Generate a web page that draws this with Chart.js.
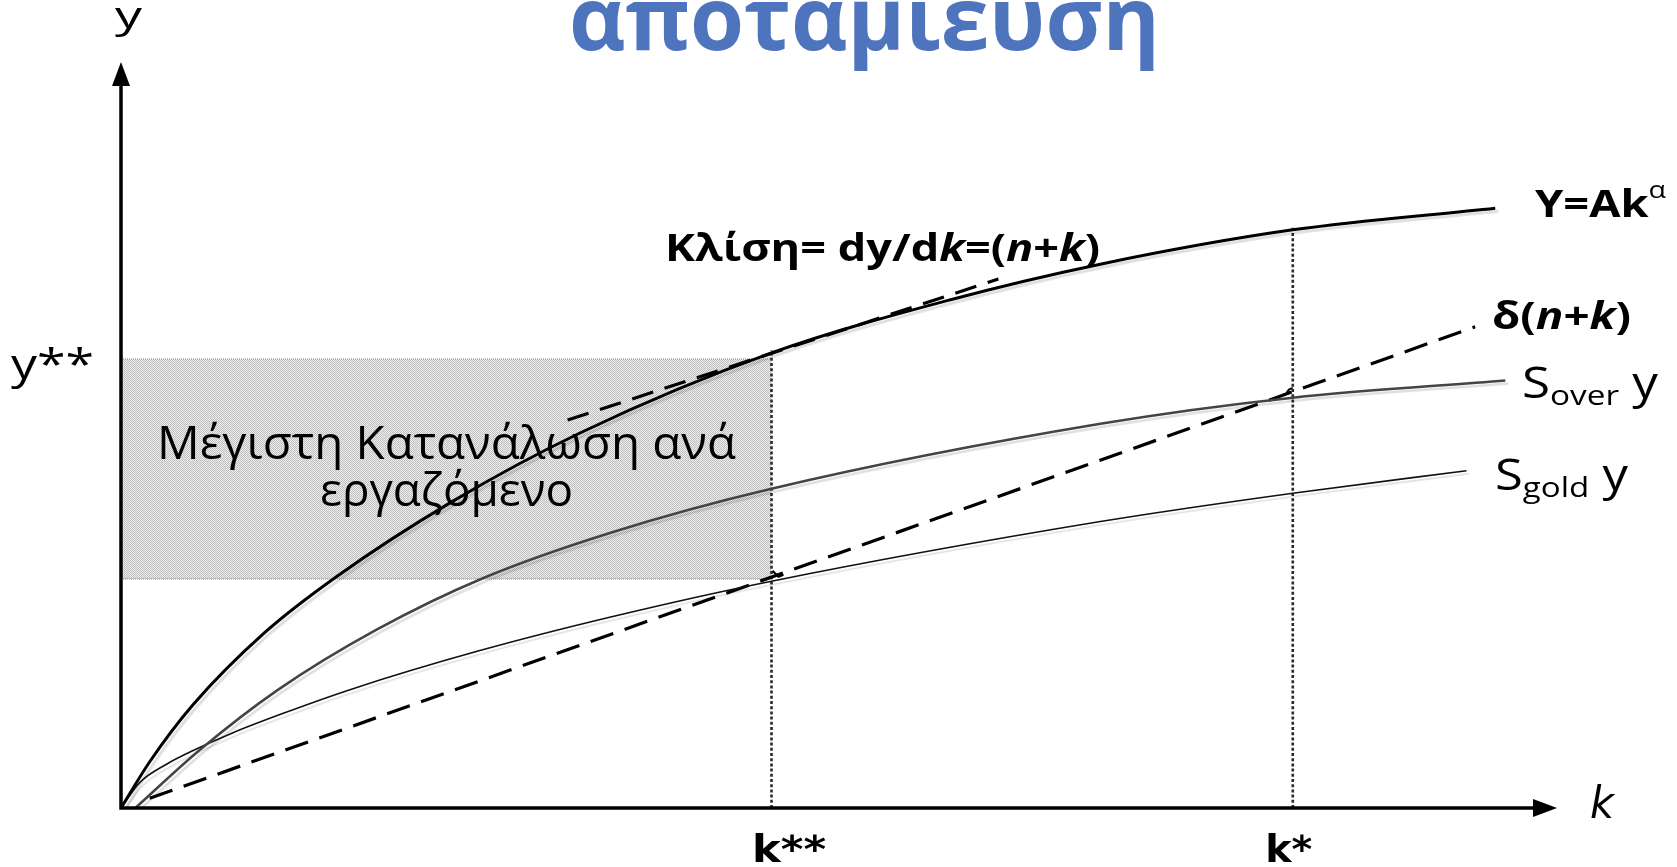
<!DOCTYPE html>
<html>
<head>
<meta charset="utf-8">
<title>Χρυσός κανόνας αποταμίευσης</title>
<script src="https://cdn.jsdelivr.net/npm/chart.js@4.4.1/dist/chart.umd.min.js"></script>
<style>
  html, body { margin: 0; padding: 0; background: #fff; }
  canvas { display: block; }
</style>
</head>
<body>
<canvas id="chart" width="1677" height="867"></canvas>
<script>
// k and y both run 0..100 along the axes
const prodK = [0, 2, 5, 10, 15, 23, 32, 45.3, 57.7, 68.2, 81.6, 95.7];
const prodY = [0, 6.2, 13.8, 23.5, 31.0, 41.0, 50.3, 61.0, 68.1, 72.9, 77.5, 80.4];

const overK = [1.0, 5.5, 10.9, 17.8, 25.2, 34.1, 45.3, 68.2, 81.6, 96.4];
const overY = [0, 7.8, 15.8, 23.9, 30.8, 36.9, 42.8, 51.5, 55.0, 57.3];

const goldK = [0, 1.3, 3.2, 4.8, 7.8, 11.3, 16.0, 24.8, 34.1, 45.3, 68.2, 81.6, 93.7];
const goldY = [0, 3.4, 5.9, 7.5, 10.1, 12.7, 15.9, 21.0, 25.6, 30.4, 38.4, 42.2, 45.2];

// δ(n+k) line and the tangent at k**
const deprK = [2.0, 94.3];
const deprY = [1.3, 64.5];
const tangentK = [31.1, 61.1];
const tangentY = [52.0, 70.9];

const kGold = 45.3;
const kOver = 81.6;
const guideTop = [61.4, 77.8];
const consTop = 60.2;
const consBottom = 30.7;

// little angle marks where δ(n+k) meets the savings curves
const markK = [45.3, 81.6];
const markY = [31.0, 55.6];

const tickK = [kGold, kOver];
const tickKLabels = ['k**', 'k*'];
const tickY = [consTop];
const tickYLabels = ['y**'];

const SANS = '"Open Sans", "Noto Sans", sans-serif';
const NARROW = '"Liberation Sans Narrow", "DejaVu Sans Condensed", "Liberation Sans", sans-serif';

const pts = (xs, ys) => xs.map((x, i) => ({x: x, y: ys[i]}));

function dither() {
  const c = document.createElement('canvas');
  c.width = 2; c.height = 2;
  const g = c.getContext('2d');
  g.fillStyle = '#ececec';
  g.fillRect(0, 0, 2, 2);
  g.fillStyle = '#c0c0c0';
  g.fillRect(0, 0, 1, 1);
  g.fillRect(1, 1, 1, 1);
  return g.createPattern(c, 'repeat');
}

// draws a row of text pieces squeezed to a given width
function drawRun(ctx, parts, left, baseline, width) {
  let total = 0;
  parts.forEach(p => { ctx.font = p.font; total += ctx.measureText(p.t).width; });
  const sx = width / total;
  ctx.save();
  ctx.translate(left, baseline);
  ctx.scale(sx, 1);
  ctx.textAlign = 'left';
  ctx.textBaseline = 'alphabetic';
  let x = 0;
  parts.forEach(p => {
    ctx.font = p.font;
    ctx.fillStyle = p.color || '#000';
    ctx.fillText(p.t, x, p.dy || 0);
    x += ctx.measureText(p.t).width;
  });
  ctx.restore();
}

const B = 'bold 38px ' + SANS;
const BI = 'italic bold 38px ' + SANS;

const annotations = [
  {parts: [{t: 'αποταμίευση', font: 'bold 88px ' + SANS, color: '#4f74be'}], left: 569, y: 50, w: 591},
  {parts: [{t: 'y', font: '37px ' + SANS}], left: 115, y: 28, w: 27},
  {parts: [{t: 'Μέγιστη Κατανάλωση ανά', font: '45px ' + SANS}], left: 157, y: 459, w: 579},
  {parts: [{t: 'εργαζόμενο', font: '45px ' + SANS}], left: 320, y: 506, w: 253},
  {parts: [{t: 'Κλίση= dy/d', font: B}, {t: 'k', font: BI}, {t: '=(', font: B}, {t: 'n', font: BI},
           {t: '+', font: B}, {t: 'k', font: BI}, {t: ')', font: B}], left: 665, y: 261, w: 435},
  {parts: [{t: 'Y=Ak', font: B}, {t: 'α', font: '24px ' + SANS, dy: -19}], left: 1535, y: 217, w: 131},
  {parts: [{t: 'δ(', font: B}, {t: 'n', font: BI}, {t: '+', font: B}, {t: 'k', font: BI}, {t: ')', font: B}],
   left: 1492, y: 329, w: 139},
  {parts: [{t: 'S', font: '43px ' + SANS}, {t: 'over', font: '28px ' + SANS, dy: 7}, {t: ' y', font: '43px ' + SANS}],
   left: 1522, y: 398, w: 136},
  {parts: [{t: 'S', font: '43px ' + SANS}, {t: 'gold', font: '28px ' + SANS, dy: 7}, {t: ' y', font: '43px ' + SANS}],
   left: 1495, y: 490, w: 133},
  {parts: [{t: 'k', font: 'italic 44px ' + NARROW}], left: 1590, y: 818, w: 24}
];

const tickStyle = {
  k: {font: 'bold 37px ' + NARROW, dx: [17.5, -4], w: [74, 47], baseline: 862},
  y: {font: '42px ' + SANS, left: 11, w: 83, dy: 20}
};

const labelPlugin = {
  id: 'labels',
  beforeDatasetsDraw(chart) {
    const ctx = chart.ctx;
    const {x, y} = chart.scales;
    annotations.forEach(a => drawRun(ctx, a.parts, a.left, a.y, a.w));
    tickK.forEach((v, i) => {
      const cx = x.getPixelForValue(v) + tickStyle.k.dx[i];
      drawRun(ctx, [{t: tickKLabels[i], font: tickStyle.k.font}], cx - tickStyle.k.w[i] / 2, tickStyle.k.baseline, tickStyle.k.w[i]);
    });
    tickY.forEach((v, i) => {
      drawRun(ctx, [{t: tickYLabels[i], font: tickStyle.y.font}], tickStyle.y.left, y.getPixelForValue(v) + tickStyle.y.dy, tickStyle.y.w);
    });
  }
};

const shadowPlugin = {
  id: 'curveShadow',
  beforeDatasetDraw(chart, args) {
    if (!chart.data.datasets[args.index].shadow) return;
    const ctx = chart.ctx;
    ctx.save();
    ctx.shadowColor = 'rgba(0,0,0,0.13)';
    ctx.shadowOffsetX = 3;
    ctx.shadowOffsetY = 3;
    ctx.shadowBlur = 1;
  },
  afterDatasetDraw(chart, args) {
    if (!chart.data.datasets[args.index].shadow) return;
    chart.ctx.restore();
  }
};

const axesPlugin = {
  id: 'axes',
  afterDatasetsDraw(chart) {
    const ctx = chart.ctx;
    const {x, y} = chart.scales;
    const x0 = x.getPixelForValue(0), y0 = y.getPixelForValue(0);
    const xEnd = x.getPixelForValue(100), yEnd = y.getPixelForValue(100);

    ctx.save();
    // angle marks
    ctx.strokeStyle = '#000';
    ctx.lineWidth = 2;
    const m0x = x.getPixelForValue(markK[0]), m0y = y.getPixelForValue(markY[0]);
    ctx.beginPath();
    ctx.moveTo(m0x + 1, m0y - 6);
    ctx.lineTo(m0x + 7, m0y);
    ctx.lineTo(m0x + 12, m0y - 2);
    ctx.stroke();
    const m1x = x.getPixelForValue(markK[1]), m1y = y.getPixelForValue(markY[1]);
    ctx.beginPath();
    ctx.arc(m1x, m1y + 1, 6, Math.PI, 1.5 * Math.PI);
    ctx.stroke();

    // axes with arrow heads
    ctx.lineWidth = 3.5;
    ctx.lineJoin = 'miter';
    ctx.beginPath();
    ctx.moveTo(x0, yEnd + 18);
    ctx.lineTo(x0, y0);
    ctx.lineTo(xEnd - 18, y0);
    ctx.stroke();
    ctx.fillStyle = '#000';
    ctx.beginPath();
    ctx.moveTo(xEnd, y0);
    ctx.lineTo(xEnd - 24, y0 - 9);
    ctx.lineTo(xEnd - 24, y0 + 9);
    ctx.closePath();
    ctx.fill();
    ctx.beginPath();
    ctx.moveTo(x0, yEnd);
    ctx.lineTo(x0 - 9, yEnd + 24);
    ctx.lineTo(x0 + 9, yEnd + 24);
    ctx.closePath();
    ctx.fill();
    ctx.restore();
  }
};

const guide = (k, top) => ({
  data: pts([k, k], [0, top]),
  borderColor: '#2a2a2a',
  borderWidth: 2.6,
  borderDash: [3, 2.2],
  order: 5
});

new Chart(document.getElementById('chart'), {
  type: 'line',
  data: {
    datasets: [
      {data: pts(prodK, prodY), borderColor: '#000', borderWidth: 3, cubicInterpolationMode: 'monotone', shadow: true, order: 0},
      {data: pts(overK, overY), borderColor: '#444', borderWidth: 2.5, cubicInterpolationMode: 'monotone', shadow: true, order: 1},
      {data: pts(goldK, goldY), borderColor: '#111', borderWidth: 1.6, cubicInterpolationMode: 'monotone', shadow: true, order: 2},
      {data: pts(deprK, deprY), borderColor: '#000', borderWidth: 3.2, borderDash: [24, 12], order: 3},
      {data: pts(tangentK, tangentY), borderColor: '#000', borderWidth: 3.2, borderDash: [22, 12], order: 3},
      guide(kGold, guideTop[0]),
      guide(kOver, guideTop[1]),
      {data: pts([0, kGold], [consTop, consTop]), borderColor: '#8c8c8c', borderWidth: 1, borderDash: [1, 1],
       fill: '+1', backgroundColor: dither(), order: 10},
      {data: pts([0, kGold], [consBottom, consBottom]), borderColor: '#8c8c8c', borderWidth: 1, borderDash: [1, 1], order: 11}
    ]
  },
  options: {
    responsive: false,
    animation: false,
    devicePixelRatio: 1,
    layout: {padding: {left: 121, right: 120, top: 62, bottom: 59}},
    elements: {point: {radius: 0}, line: {tension: 0, borderCapStyle: 'butt'}},
    scales: {
      x: {type: 'linear', min: 0, max: 100, display: false},
      y: {type: 'linear', min: 0, max: 100, display: false}
    },
    plugins: {
      legend: {display: false},
      tooltip: {enabled: false},
      filler: {drawTime: 'beforeDatasetsDraw'}
    }
  },
  plugins: [labelPlugin, shadowPlugin, axesPlugin]
});
</script>
</body>
</html>
